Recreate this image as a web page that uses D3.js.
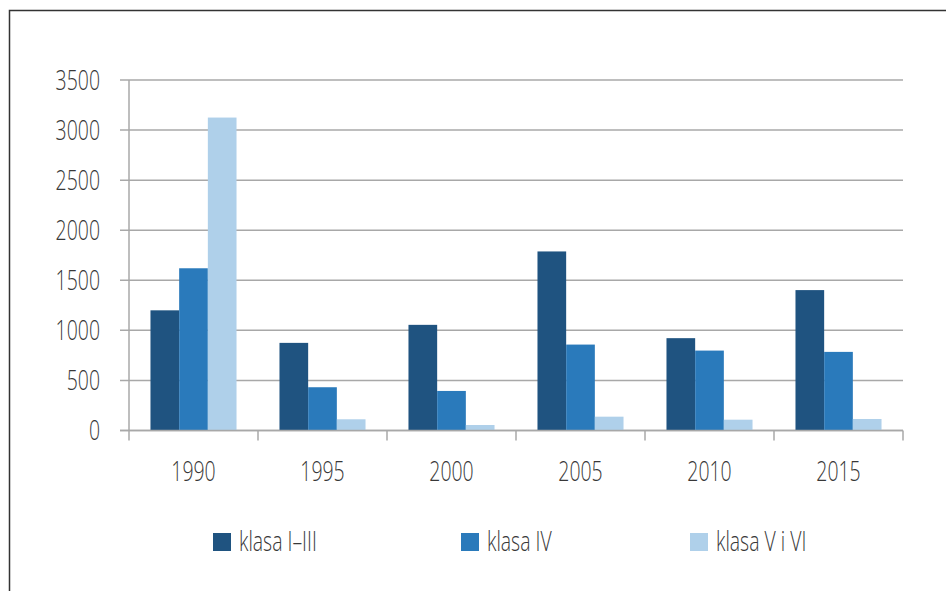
<!DOCTYPE html>
<html>
<head>
<meta charset="utf-8">
<script src="https://cdn.jsdelivr.net/npm/d3@7"></script>
<style>
  body { margin: 0; background: #fff; }
  svg text { font-family: "Open Sans", "DejaVu Sans Condensed", sans-serif; font-weight: 350; fill: #383838; font-size: 27px; }
</style>
</head>
<body>
<svg id="chart" width="946" height="591"></svg>
<script>
var years  = ["1990", "1995", "2000", "2005", "2010", "2015"];
var series = ["klasa I\u2013III", "klasa IV", "klasa V i VI"];
var klasaI_III = [1200, 875, 1055, 1788, 922, 1402];
var klasaIV    = [1620, 432, 395, 858, 798, 785];
var klasaV_VI  = [3125, 112, 55, 138, 108, 115];
var yTicks = [0, 500, 1000, 1500, 2000, 2500, 3000, 3500];
var colors = ["#1f5380", "#2a7abb", "#afd0ea"];

var values = [klasaI_III, klasaIV, klasaV_VI];
var rows = years.map(function(y, i){
  return {year: y, vals: values.map(function(v){ return v[i] })};
});

var svg = d3.select("#chart");
var squeeze = 0.72; // narrow the font horizontally, reference uses a condensed face

// places a text at (px,py) squeezed horizontally
function label(sel, px, py){
  sel.attr("transform", function(d, i){
    return "translate(" + px(d, i) + "," + py(d, i) + ") scale(" + squeeze + ",1)";
  });
  return sel;
}

// outer frame (cut off at right and bottom)
svg.append("path")
    .attr("d", "M9.5,591 L9.5,10.5 L946,10.5")
    .attr("fill", "none")
    .attr("stroke", "#333")
    .attr("stroke-width", 1.5);

var plotL = 129, plotR = 903, plotT = 80, plotB = 430.5;

var y = d3.scaleLinear().domain([0, 3500]).range([plotB, plotT]);
var x = d3.scaleBand().domain(years).range([plotL, plotR]).paddingInner(0.333).paddingOuter(0.1665);
var xSub = d3.scaleBand().domain(d3.range(series.length)).range([0, x.bandwidth()]);
var xTick = d3.scaleBand().domain(years).range([plotL, plotR]);

// gridlines
svg.append("g").selectAll("line")
    .data(yTicks).enter()
    .append("line")
    .attr("x1", plotL - 9).attr("x2", plotR)
    .attr("y1", function(d){ return y(d) }).attr("y2", function(d){ return y(d) })
    .attr("stroke", "#a8a8a8")
    .attr("stroke-width", 1.5);

// y axis line
svg.append("line")
    .attr("x1", plotL).attr("x2", plotL)
    .attr("y1", plotT).attr("y2", plotB)
    .attr("stroke", "#a8a8a8").attr("stroke-width", 1.5);

// y labels
label(svg.append("g").selectAll("text")
    .data(yTicks).enter()
    .append("text")
    .attr("dy", "0.36em")
    .attr("text-anchor", "end")
    .text(function(d){ return d }),
  function(){ return 100 }, function(d){ return y(d) });

// bars
var groups = svg.append("g").selectAll("g")
    .data(rows).enter()
    .append("g")
    .attr("transform", function(d){ return "translate(" + x(d.year) + ",0)" });

groups.selectAll("rect")
    .data(function(d){ return d.vals }).enter()
    .append("rect")
    .attr("x", function(d, i){ return xSub(i) })
    .attr("width", xSub.bandwidth())
    .attr("y", function(d){ return y(d) })
    .attr("height", function(d){ return y(0) - y(d) })
    .attr("fill", function(d, i){ return colors[i] });

// x axis
var xAxis = svg.append("g").attr("transform", "translate(0," + plotB + ")");
xAxis.append("line")
    .attr("x1", plotL - 9).attr("x2", plotR)
    .attr("stroke", "#a8a8a8").attr("stroke-width", 1.5);
var tickPos = years.map(function(d){ return xTick(d) }).concat([plotR]);
xAxis.selectAll("line.tick")
    .data(tickPos).enter()
    .append("line")
    .attr("class", "tick")
    .attr("x1", function(d){ return d }).attr("x2", function(d){ return d })
    .attr("y1", 0).attr("y2", 10)
    .attr("stroke", "#a8a8a8").attr("stroke-width", 1.5);
label(xAxis.selectAll("text")
    .data(years).enter()
    .append("text")
    .attr("text-anchor", "middle")
    .text(function(d){ return d }),
  function(d){ return xTick(d) + xTick.bandwidth() / 2 }, function(){ return 50.5 });

// legend
var legendX = [213, 461, 690];
var legend = svg.append("g").selectAll("g")
    .data(series).enter()
    .append("g")
    .attr("transform", function(d, i){ return "translate(" + legendX[i] + ",533)" });
legend.append("rect")
    .attr("width", 18).attr("height", 18)
    .attr("fill", function(d, i){ return colors[i] });
label(legend.append("text")
    .text(function(d){ return d }),
  function(){ return 26 }, function(){ return 18 });
</script>
</body>
</html>
